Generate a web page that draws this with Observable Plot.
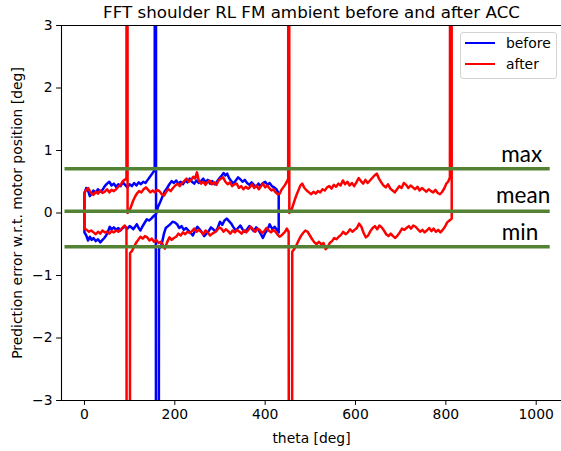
<!DOCTYPE html>
<html><head><meta charset="utf-8">
<script src="https://cdn.jsdelivr.net/npm/d3@7"></script>
<script src="https://cdn.jsdelivr.net/npm/@observablehq/plot@0.6"></script>
<style>
body{margin:0;background:#fff;}
#wrap{position:relative;width:561px;height:451px;overflow:hidden;background:#fff;}
.legend{position:absolute;left:460px;top:32px;width:97px;height:47px;box-sizing:border-box;border:1px solid #d3d3d3;border-radius:3px;background:rgba(255,255,255,0.85);font:13.9px "DejaVu Sans";line-height:16px;color:#000;}
.legend .sw{position:absolute;left:4px;width:30px;height:2.1px;}
.legend .lb{position:absolute;left:45px;white-space:nowrap;}
</style></head><body><div id="wrap"></div><script>
const chartTitle = "FFT shoulder RL FM ambient before and after ACC";
const xLabel = "theta [deg]";
const yLabel = "Prediction error w.r.t. motor position [deg]";
const seriesNames = ["before", "after"];
const seriesColors = ["#0000ff", "#ff0000"];
const xTicks = [0, 200, 400, 600, 800, 1000];
const yTicks = [-3, -2, -1, 0, 1, 2, 3];
const xDomain = [-50.8, 1056];
const yDomain = [-3, 3];

// before: upper branch forward, lower branch backward
const beforeUpper = [[0,0.31],[4,0.40],[8,0.36],[12,0.27],[16,0.31],[20,0.36],[25,0.32],[30,0.38],[35,0.34],[40,0.37],[45,0.43],[50,0.47],[55,0.50],[60,0.44],[65,0.47],[70,0.42],[75,0.46],[80,0.43],[85,0.49],[90,0.45],[95,0.41],[100,0.46],[105,0.43],[110,0.48],[115,0.44],[120,0.49],[125,0.46],[130,0.50],[135,0.48],[140,0.53],[145,0.58],[150,0.63],[155.5,0.69],[157,40],[158.5,-0.02],[163,0.10],[168,0.18],[173,0.27],[178,0.35],[183,0.40],[188,0.46],[193,0.51],[198,0.48],[203,0.52],[208,0.47],[213,0.50],[218,0.46],[223,0.52],[228,0.49],[233,0.55],[238,0.50],[243,0.47],[248,0.52],[253,0.48],[258,0.51],[263,0.55],[268,0.49],[273,0.53],[278,0.47],[283,0.51],[288,0.46],[293,0.50],[298,0.55],[303,0.59],[308,0.64],[312,0.60],[316,0.63],[320,0.56],[325,0.51],[330,0.47],[335,0.52],[340,0.57],[345,0.54],[350,0.50],[355,0.53],[360,0.48],[365,0.45],[370,0.49],[375,0.45],[380,0.42],[385,0.47],[390,0.43],[395,0.48],[400,0.50],[405,0.45],[410,0.48],[415,0.43],[420,0.41],[425,0.38],[430,0.31]];
const beforeLower = [[430,-0.31],[426,-0.27],[421,-0.22],[416,-0.26],[410,-0.18],[405,-0.27],[400,-0.32],[395,-0.40],[390,-0.33],[385,-0.27],[380,-0.23],[375,-0.29],[370,-0.25],[365,-0.21],[360,-0.26],[355,-0.30],[350,-0.26],[345,-0.20],[340,-0.24],[335,-0.28],[330,-0.23],[325,-0.17],[320,-0.13],[315,-0.09],[310,-0.12],[305,-0.19],[300,-0.14],[295,-0.24],[290,-0.30],[285,-0.26],[280,-0.23],[275,-0.29],[270,-0.33],[265,-0.37],[260,-0.31],[255,-0.26],[250,-0.22],[245,-0.28],[240,-0.36],[235,-0.32],[230,-0.28],[225,-0.24],[220,-0.27],[215,-0.21],[210,-0.24],[205,-0.18],[200,-0.15],[195,-0.14],[190,-0.18],[185,-0.21],[180,-0.24],[176,-0.33],[171,-0.50],[165,-0.58],[161,-40],[158,-0.02],[153,-0.05],[148,-0.09],[143,-0.12],[138,-0.10],[133,-0.16],[128,-0.22],[124,-0.28],[120,-0.24],[116,-0.18],[112,-0.22],[108,-0.26],[104,-0.23],[100,-0.21],[95,-0.25],[90,-0.22],[85,-0.24],[80,-0.28],[75,-0.24],[70,-0.27],[65,-0.23],[60,-0.26],[56,-0.22],[52,-0.30],[48,-0.36],[44,-0.40],[40,-0.43],[35,-0.47],[30,-0.42],[25,-0.45],[20,-0.40],[16,-0.43],[12,-0.38],[8,-0.44],[4,-0.36],[0,-0.31],[0,0.31]];

// after: upper branch forward, lower branch backward
const afterUpper = [[0,0.33],[4,0.37],[8,0.40],[12,0.35],[16,0.31],[20,0.29],[25,0.34],[30,0.31],[35,0.36],[40,0.32],[45,0.34],[50,0.38],[55,0.33],[60,0.37],[65,0.35],[70,0.38],[75,0.42],[80,0.45],[85,0.51],[89,0.53],[93,0.55],[94,40],[95.5,0.0],[100,0.04],[104,0.12],[108,0.20],[112,0.26],[116,0.31],[121,0.35],[126,0.33],[131,0.38],[136,0.41],[141,0.37],[146,0.33],[151,0.36],[156,0.33],[161,0.37],[166,0.35],[171,0.30],[176,0.28],[181,0.34],[186,0.38],[191,0.35],[196,0.40],[201,0.44],[206,0.47],[211,0.43],[216,0.48],[221,0.51],[226,0.55],[231,0.50],[236,0.53],[241,0.58],[245,0.55],[249,0.65],[253,0.52],[258,0.47],[263,0.50],[268,0.45],[273,0.50],[277,0.52],[282,0.46],[287,0.49],[292,0.45],[297,0.52],[302,0.55],[307,0.57],[312,0.50],[317,0.46],[322,0.49],[327,0.43],[332,0.46],[337,0.47],[342,0.40],[347,0.43],[352,0.38],[357,0.42],[362,0.39],[366,0.41],[371,0.46],[376,0.40],[381,0.44],[386,0.38],[391,0.43],[395,0.47],[400,0.41],[405,0.44],[410,0.39],[414,0.36],[418,0.38],[423,0.33],[428,0.30],[432,0.31],[436,0.37],[440,0.41],[444,0.45],[448,0.50],[451,0.55],[452,40],[453.5,0.0],[458,0.04],[462,0.13],[466,0.22],[470,0.30],[474,0.37],[478,0.44],[482,0.47],[487,0.40],[492,0.36],[497,0.33],[502,0.30],[507,0.34],[512,0.31],[517,0.35],[522,0.33],[527,0.38],[532,0.36],[537,0.41],[542,0.43],[547,0.39],[552,0.45],[557,0.42],[562,0.47],[567,0.44],[572,0.52],[577,0.46],[582,0.50],[587,0.44],[592,0.48],[597,0.43],[602,0.49],[607,0.56],[612,0.51],[617,0.47],[622,0.53],[627,0.48],[632,0.52],[637,0.56],[642,0.60],[647,0.63],[652,0.55],[657,0.49],[662,0.44],[667,0.41],[672,0.46],[677,0.39],[682,0.36],[687,0.33],[692,0.38],[697,0.43],[702,0.40],[707,0.48],[712,0.45],[717,0.40],[722,0.44],[727,0.41],[732,0.38],[737,0.42],[742,0.36],[747,0.40],[752,0.37],[757,0.34],[762,0.38],[767,0.35],[772,0.33],[777,0.37],[782,0.32],[787,0.30],[792,0.34],[797,0.40],[801,0.47],[805,0.50],[809,0.57],[812,40]];
const afterLower = [[813,-0.09],[808,-0.12],[803,-0.15],[798,-0.22],[793,-0.27],[788,-0.31],[783,-0.27],[778,-0.30],[773,-0.25],[768,-0.29],[763,-0.24],[758,-0.28],[753,-0.31],[748,-0.27],[743,-0.30],[738,-0.26],[733,-0.22],[728,-0.20],[723,-0.25],[718,-0.21],[713,-0.24],[708,-0.27],[703,-0.25],[698,-0.31],[693,-0.36],[688,-0.40],[683,-0.37],[678,-0.33],[673,-0.37],[668,-0.34],[663,-0.28],[658,-0.23],[653,-0.20],[648,-0.26],[643,-0.21],[638,-0.24],[633,-0.29],[628,-0.36],[623,-0.39],[618,-0.32],[613,-0.22],[608,-0.17],[603,-0.24],[598,-0.27],[593,-0.30],[588,-0.26],[583,-0.31],[578,-0.34],[573,-0.30],[568,-0.35],[563,-0.38],[558,-0.42],[553,-0.40],[548,-0.45],[543,-0.48],[538,-0.55],[534,-0.58],[529,-0.48],[524,-0.50],[519,-0.46],[514,-0.50],[509,-0.47],[504,-0.42],[499,-0.36],[494,-0.30],[489,-0.28],[484,-0.32],[479,-0.37],[474,-0.44],[469,-0.52],[464,-0.58],[460,-0.62],[456,-40],[452,-0.30],[448,-0.25],[444,-0.30],[440,-0.33],[436,-0.36],[432,-0.38],[428,-0.35],[423,-0.30],[418,-0.27],[413,-0.31],[408,-0.28],[403,-0.24],[398,-0.29],[393,-0.32],[388,-0.27],[383,-0.25],[378,-0.30],[373,-0.26],[368,-0.22],[363,-0.27],[358,-0.31],[353,-0.28],[348,-0.33],[343,-0.30],[338,-0.27],[333,-0.31],[328,-0.28],[323,-0.33],[318,-0.29],[313,-0.26],[308,-0.30],[303,-0.25],[298,-0.23],[293,-0.28],[288,-0.31],[283,-0.33],[278,-0.36],[273,-0.31],[268,-0.28],[263,-0.34],[258,-0.30],[253,-0.27],[248,-0.30],[243,-0.25],[238,-0.29],[233,-0.32],[228,-0.30],[223,-0.34],[218,-0.31],[213,-0.36],[208,-0.33],[203,-0.38],[198,-0.40],[193,-0.43],[188,-0.39],[183,-0.47],[178,-0.57],[174,-0.52],[169,-0.46],[164,-0.48],[159,-0.43],[154,-0.46],[149,-0.41],[144,-0.44],[139,-0.39],[134,-0.37],[129,-0.41],[124,-0.38],[119,-0.43],[114,-0.48],[110,-0.54],[105,-0.61],[101,-0.64],[97,-40],[93,-0.24],[89,-0.20],[85,-0.23],[80,-0.27],[75,-0.30],[70,-0.28],[65,-0.31],[60,-0.29],[55,-0.33],[50,-0.30],[45,-0.31],[40,-0.28],[35,-0.33],[30,-0.30],[25,-0.34],[20,-0.31],[15,-0.28],[10,-0.30],[5,-0.27],[0,-0.25],[0,0.33]];

// reference levels
const levelNames = ["max", "mean", "min"];
const levelValues = [0.71, 0.03, -0.54];
const levelStart = -43;
const levelEnd = 1031;

const paths = [beforeUpper.concat(beforeLower), afterUpper.concat(afterLower)];
const levels = levelNames.map((name, i) => ({name, value: levelValues[i]}));
const labelDx = [-8, 0, -12];
const labelDy = [-6.5, -8, -7];

const green = "#548235";
const fmt = d3.format("d");
const fs = 13.9;

const chart = Plot.plot({
  width: 561, height: 451,
  marginLeft: 61, marginRight: 0, marginTop: 25, marginBottom: 51,
  x: {domain: xDomain},
  y: {domain: yDomain},
  style: {fontFamily: "DejaVu Sans", fontSize: fs + "px", color: "#000", background: "#fff"},
  marks: [
    ...paths.map((p, i) => Plot.line(p, {x: d => d[0], y: d => d[1], stroke: seriesColors[i], strokeWidth: 2.5, clip: true})),
    Plot.ruleY(levels, {y: "value", x1: levelStart, x2: levelEnd, stroke: green, strokeWidth: 3.5}),
    ...levels.map((l, i) => Plot.text([l], {x: levelEnd, y: "value", text: "name", textAnchor: "end", lineAnchor: "bottom", dx: labelDx[i], dy: labelDy[i], fontSize: 22.5, fontFamily: "Lato", fill: "#000"})),
    Plot.ruleY(yDomain, {stroke: "#000", strokeWidth: 1.1}),
    Plot.ruleX([xDomain[0]], {stroke: "#000", strokeWidth: 1.1}),
    Plot.axisX({ticks: xTicks, tickSize: 4.9, tickPadding: 4, tickFormat: fmt, label: null, fontSize: fs}),
    Plot.axisY({ticks: yTicks, tickSize: 4.9, tickPadding: 4, tickFormat: fmt, label: null, fontSize: fs}),
    Plot.text([xLabel], {frameAnchor: "bottom", textAnchor: "middle", lineAnchor: "bottom", dy: 42, fontSize: fs}),
    Plot.text([yLabel], {frameAnchor: "left", textAnchor: "middle", rotate: -90, lineAnchor: "middle", dx: -44, fontSize: fs}),
    Plot.text([chartTitle], {frameAnchor: "top", textAnchor: "middle", lineAnchor: "bottom", dy: -8, fontSize: 16.7})
  ]
});

const wrap = document.getElementById("wrap");
wrap.appendChild(chart);
const leg = document.createElement("div");
leg.className = "legend";
seriesNames.forEach((n, i) => {
  const sw = document.createElement("div");
  sw.className = "sw";
  sw.style.top = (i === 0 ? 8.7 : 30) + "px";
  sw.style.background = seriesColors[i];
  const lb = document.createElement("div");
  lb.className = "lb";
  lb.style.top = (i === 0 ? 1.7 : 23) + "px";
  lb.textContent = n;
  leg.appendChild(sw); leg.appendChild(lb);
});
wrap.appendChild(leg);
</script></body></html>
